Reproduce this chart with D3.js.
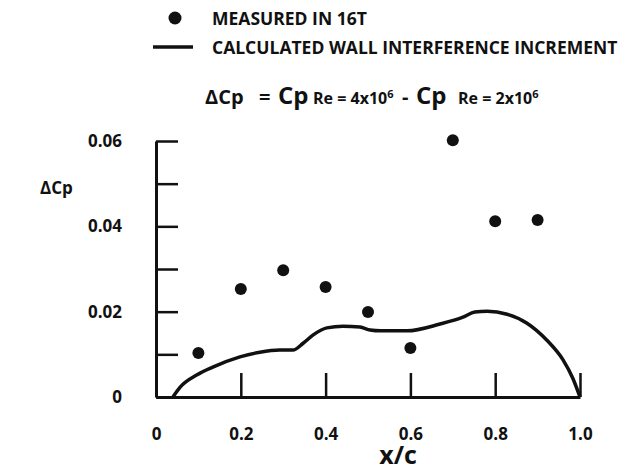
<!DOCTYPE html>
<html>
<head>
<meta charset="utf-8">
<script src="https://cdn.jsdelivr.net/npm/d3@7"></script>
<style>
  body { margin: 0; background: #fff; }
  text { font-family: "Open Sans", "DejaVu Sans", sans-serif; font-weight: 700; fill: #111; }
</style>
</head>
<body>
<div id="chart"></div>
<script>
// measured points (x/c, dCp)
const measuredX = [0.1, 0.2, 0.3, 0.4, 0.5, 0.6, 0.7, 0.8, 0.9];
const measuredY = [0.0103, 0.0253, 0.0297, 0.0258, 0.0199, 0.0115, 0.0602, 0.0412, 0.0415];

// calculated wall interference increment curve
const calcX = [0.040, 0.057, 0.097, 0.134, 0.198, 0.245, 0.292, 0.323, 0.347, 0.370, 0.403, 0.441,
  0.481, 0.505, 0.530, 0.592, 0.670, 0.724, 0.752, 0.781, 0.828, 0.875, 0.922, 0.960, 0.983, 1.000];
const calcY = [0.0000, 0.0023, 0.0052, 0.0070, 0.0094, 0.0105, 0.0110, 0.0110, 0.0126, 0.0145, 0.0162, 0.0166,
  0.0164, 0.0157, 0.0155, 0.0155, 0.0171, 0.0187, 0.0199, 0.0201, 0.0194, 0.0173, 0.0133, 0.0087, 0.0044, 0.0000];

const yTicks = [0, 0.01, 0.02, 0.03, 0.04, 0.05, 0.06];
const yLabels = {0: "0", 0.02: "0.02", 0.04: "0.04", 0.06: "0.06"};
const xTicks = [0, 0.2, 0.4, 0.6, 0.8, 1.0];
const xLabels = ["0", "0.2", "0.4", "0.6", "0.8", "1.0"];

const width = 637, height = 471;
const svg = d3.select("#chart").append("svg")
  .attr("width", width).attr("height", height);

const x = d3.scaleLinear().domain([0, 1]).range([156, 580]);
const y = d3.scaleLinear().domain([0, 0.06]).range([397, 141]);

// y axis
const yAxis = d3.axisLeft(y)
  .tickValues(yTicks)
  .tickSizeInner(-22).tickSizeOuter(0).tickPadding(34)
  .tickFormat(d => yLabels[d] || "");
const gy = svg.append("g").attr("transform", `translate(${x(0)},0)`).call(yAxis);
gy.select(".domain").attr("stroke", "#111").attr("stroke-width", 3);
gy.selectAll(".tick line").attr("stroke", "#111").attr("stroke-width", 2.5);
gy.selectAll(".tick text").attr("font-size", 17).attr("font-family", null).attr("fill", "#111");

// x axis
const xAxis = d3.axisBottom(x)
  .tickValues(xTicks)
  .tickSizeInner(-24).tickSizeOuter(0).tickPadding(31)
  .tickFormat((d, i) => xLabels[i]);
const gx = svg.append("g").attr("transform", `translate(0,${y(0)})`).call(xAxis);
gx.select(".domain").attr("stroke", "#111").attr("stroke-width", 3);
gx.selectAll(".tick line").attr("stroke", "#111").attr("stroke-width", 2.5);
gx.selectAll(".tick text").attr("font-size", 17).attr("font-family", null).attr("fill", "#111");

// axis titles
svg.append("text").attr("x", 398).attr("y", 464).attr("text-anchor", "middle")
  .attr("font-size", 25).text("x/c");
svg.append("text").attr("x", 40).attr("y", 194).attr("font-size", 17).text("\u0394Cp");

// calculated curve
const line = d3.line()
  .x((d, i) => x(calcX[i]))
  .y((d, i) => y(calcY[i]))
  .curve(d3.curveMonotoneX);
svg.append("path")
  .datum(calcX)
  .attr("d", line)
  .attr("fill", "none")
  .attr("stroke", "#111")
  .attr("stroke-width", 3.5);

// measured dots
svg.append("g").selectAll("circle")
  .data(measuredX)
  .join("circle")
  .attr("cx", d => x(d))
  .attr("cy", (d, i) => y(measuredY[i]))
  .attr("r", 6)
  .attr("fill", "#111");

// legend
svg.append("circle").attr("cx", 175).attr("cy", 18).attr("r", 6.5).attr("fill", "#111");
svg.append("text").attr("x", 212).attr("y", 25).attr("font-size", 17.5).text("MEASURED IN 16T");
svg.append("line").attr("x1", 153).attr("x2", 193).attr("y1", 47).attr("y2", 47)
  .attr("stroke", "#111").attr("stroke-width", 3.5);
svg.append("text").attr("x", 212).attr("y", 54).attr("font-size", 17.5)
  .text("CALCULATED WALL INTERFERENCE INCREMENT");

// formula title
const title = svg.append("text").attr("y", 104);
title.append("tspan").attr("x", 205).attr("font-size", 20).text("\u0394Cp");
title.append("tspan").attr("x", 259).attr("font-size", 20).text("=");
title.append("tspan").attr("x", 278).attr("font-size", 24).text("Cp");
title.append("tspan").attr("x", 313).attr("font-size", 16).text("Re = 4x10");
title.append("tspan").attr("font-size", 11).attr("dy", -6).text("6");
title.append("tspan").attr("x", 402).attr("dy", 6).attr("font-size", 20).text("-");
title.append("tspan").attr("x", 416).attr("font-size", 24).text("Cp");
title.append("tspan").attr("x", 458).attr("font-size", 16).text("Re = 2x10");
title.append("tspan").attr("font-size", 11).attr("dy", -6).text("6");
</script>
</body>
</html>
